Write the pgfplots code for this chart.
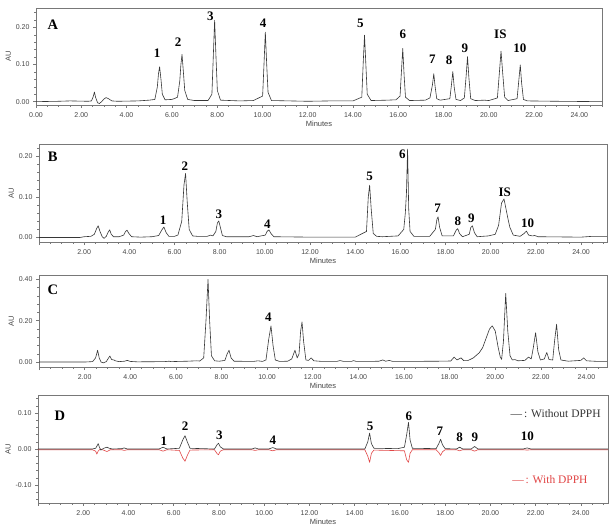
\documentclass[border=0pt]{standalone}
\usepackage{fontspec}
\setmainfont{Liberation Serif}
\setsansfont{Liberation Sans}
\usepackage{pgfplots}
\pgfplotsset{compat=1.18}

\definecolor{axisgray}{RGB}{120,120,120}
\definecolor{labgray}{RGB}{70,70,70}
\definecolor{trace}{RGB}{55,55,55}
\definecolor{tracered}{RGB}{225,70,70}

\tikzset{
  pk/.style={font=\bfseries\fontsize{13}{13}\selectfont, inner sep=0pt},
  panel/.style={font=\bfseries\fontsize{14.5}{14.5}\selectfont, inner sep=0pt},
}

\pgfplotsset{
  chrom/.style={
    scale only axis,
    clip=false,
    axis background/.style={fill=white},
    axis line style={draw=axisgray, line width=0.6pt},
    every tick/.style={draw=axisgray, line width=0.5pt},
    tick align=outside,
    xtick pos=bottom, ytick pos=left,
    major tick length=3pt, minor tick length=1.8pt,
    xtick={0,2,...,24},
    minor xtick={0,0.5,...,25},
    ticklabel style={font=\fontsize{7}{8}\selectfont\sffamily, text=labgray},
    xticklabel style={yshift=-1pt},
    /pgf/number format/assume math mode=true,
    xlabel={Minutes},
    ylabel={AU},
    label style={font=\fontsize{7.5}{8}\selectfont\sffamily, text=labgray},
    xlabel style={yshift=3pt},
    ylabel style={yshift=-2pt},
  },
  trc/.style={draw=trace, line width=0.6pt, line join=round, mark=none},
}

\begin{document}
\begin{tikzpicture}
\path[use as bounding box] (0,0) rectangle (614pt,-530pt);

% ---------------- A: standard mixture ----------------
\begin{axis}[chrom, at={(36pt,-8pt)}, anchor=north west,
  width=566pt, height=97pt,
  xmin=0, xmax=25, ymin=-0.009, ymax=0.252,
  xticklabels={0.00,2.00,4.00,6.00,8.00,10.00,12.00,14.00,16.00,18.00,20.00,22.00,24.00},
  ytick={0,0.1,0.2}, yticklabels={0.00,0.10,0.20},
  minor ytick={0,0.02,...,0.24}]
\addplot[trc] table {
x y
0 0.000
1.0 0.001
1.5 0.002
2.3 0.001
2.45 0.002
2.53 0.014
2.58 0.026
2.63 0.012
2.72 -0.003
2.80 -0.005
2.90 0.000
3.0 0.007
3.1 0.011
3.2 0.008
3.35 0.002
3.6 0.001
4.5 0.002
5.0 0.004
5.25 0.006
5.36 0.040
5.41 0.075
5.46 0.094
5.52 0.060
5.58 0.020
5.7 0.005
6.0 0.006
6.1 0.008
6.25 0.012
6.35 0.055
6.40 0.100
6.45 0.127
6.51 0.080
6.57 0.030
6.7 0.006
7.0 0.003
7.6 0.003
7.77 0.020
7.83 0.120
7.89 0.219
7.95 0.120
8.01 0.030
8.15 0.004
9.0 0.002
9.6 0.003
10.01 0.015
10.07 0.100
10.13 0.187
10.19 0.100
10.25 0.025
10.4 0.003
12.0 0.001
13.0 0.002
14.0 0.002
14.39 0.012
14.45 0.100
14.51 0.179
14.57 0.100
14.63 0.020
14.8 0.003
15.5 0.004
15.9 0.005
16.08 0.015
16.14 0.080
16.2 0.143
16.26 0.070
16.32 0.012
16.5 0.003
17.2 0.004
17.4 0.010
17.51 0.045
17.57 0.075
17.63 0.040
17.7 0.008
17.85 0.004
18.28 0.008
18.35 0.045
18.41 0.081
18.47 0.040
18.55 0.006
18.75 0.003
18.92 0.010
19.0 0.070
19.06 0.121
19.12 0.065
19.2 0.008
19.4 0.003
19.8 0.004
20.0 0.003
20.38 0.010
20.47 0.080
20.54 0.136
20.61 0.080
20.7 0.012
20.85 0.003
21.25 0.008
21.33 0.060
21.39 0.099
21.45 0.050
21.53 0.006
21.7 0.002
23.0 0.001
25.0 0.000
};
\node[panel] at (axis cs:0.74,0.206) {A};
\node[pk] at (axis cs:5.35,0.130) {1};
\node[pk] at (axis cs:6.28,0.161) {2};
\node[pk] at (axis cs:7.70,0.230) {3};
\node[pk] at (axis cs:10.03,0.212) {4};
\node[pk] at (axis cs:14.33,0.212) {5};
\node[pk] at (axis cs:16.20,0.182) {6};
\node[pk] at (axis cs:17.51,0.115) {7};
\node[pk] at (axis cs:18.25,0.112) {8};
\node[pk] at (axis cs:18.94,0.145) {9};
\node[pk] at (axis cs:20.51,0.181) {IS};
\node[pk] at (axis cs:21.37,0.145) {10};
\end{axis}

% ---------------- B: extract ----------------
\begin{axis}[chrom, at={(39pt,-144pt)}, anchor=north west,
  width=568pt, height=98pt,
  xmin=0, xmax=25.15, ymin=-0.011, ymax=0.2305,
  xticklabels={,2.00,4.00,6.00,8.00,10.00,12.00,14.00,16.00,18.00,20.00,22.00,24.00},
  ytick={0,0.1,0.2}, yticklabels={0.00,0.10,0.20},
  minor ytick={0,0.02,...,0.22}]
\addplot[trc] table {
x y
0 0.000
1.8 0.000
2.0 0.002
2.3 0.003
2.45 0.008
2.55 0.022
2.62 0.029
2.70 0.015
2.80 0.002
2.88 -0.002
2.98 0.003
3.05 0.012
3.13 0.019
3.2 0.008
3.3 0.002
3.55 0.002
3.75 0.006
3.83 0.015
3.9 0.018
3.98 0.010
4.1 0.002
4.5 0.001
5.0 0.002
5.3 0.005
5.43 0.018
5.53 0.026
5.63 0.012
5.75 0.003
6.0 0.003
6.15 0.006
6.32 0.040
6.42 0.130
6.49 0.158
6.56 0.090
6.65 0.020
6.8 0.004
7.0 0.003
7.45 0.003
7.6 0.006
7.7 0.004
7.83 0.015
7.9 0.036
7.96 0.041
8.03 0.025
8.12 0.005
8.3 0.002
9.3 0.002
9.5 0.005
9.65 0.002
10.02 0.006
10.1 0.015
10.18 0.019
10.27 0.010
10.4 0.002
12.0 0.001
14.0 0.001
14.5 0.015
14.58 0.100
14.64 0.129
14.71 0.070
14.8 0.010
14.95 0.003
15.2 0.002
15.9 0.004
16.15 0.020
16.22 0.060
16.27 0.110
16.32 0.218
16.37 0.070
16.43 0.015
16.6 0.003
17.3 0.003
17.55 0.020
17.62 0.045
17.67 0.051
17.74 0.025
17.85 0.004
18.35 0.004
18.47 0.018
18.54 0.022
18.62 0.010
18.75 0.002
19.05 0.008
19.12 0.025
19.19 0.029
19.28 0.012
19.4 0.002
19.9 0.004
20.2 0.008
20.35 0.030
20.48 0.085
20.59 0.095
20.68 0.070
20.77 0.045
20.85 0.025
21.0 0.006
21.3 0.003
21.48 0.010
21.58 0.016
21.68 0.006
21.85 0.004
21.95 0.005
22.1 0.002
24.0 0.001
24.5 0.003
25.15 0.003
};
\node[panel] at (axis cs:0.61,0.200) {B};
\node[pk] at (axis cs:5.50,0.043) {1};
\node[pk] at (axis cs:6.46,0.176) {2};
\node[pk] at (axis cs:7.96,0.058) {3};
\node[pk] at (axis cs:10.11,0.033) {4};
\node[pk] at (axis cs:14.64,0.150) {5};
\node[pk] at (axis cs:16.09,0.204) {6};
\node[pk] at (axis cs:17.65,0.073) {7};
\node[pk] at (axis cs:18.55,0.041) {8};
\node[pk] at (axis cs:19.14,0.047) {9};
\node[pk] at (axis cs:20.62,0.112) {IS};
\node[pk] at (axis cs:21.63,0.035) {10};
\end{axis}

% ---------------- C: extract after DPPH ----------------
\begin{axis}[chrom, at={(39pt,-275pt)}, anchor=north west,
  width=568pt, height=92pt,
  xmin=0, xmax=24.9, ymin=-0.024, ymax=0.421,
  xticklabels={,2.00,4.00,6.00,8.00,10.00,12.00,14.00,16.00,18.00,20.00,22.00,24.00},
  ytick={0,0.2,0.4}, yticklabels={0.00,0.20,0.40},
  minor ytick={0,0.04,...,0.41}]
\addplot[trc] table {
x y
0 0.000
2.0 0.000
2.35 0.002
2.48 0.020
2.57 0.057
2.64 0.020
2.72 0.000
2.82 -0.004
2.95 0.002
3.05 0.020
3.11 0.029
3.18 0.012
3.28 0.010
3.35 0.006
3.5 0.002
3.75 0.004
3.87 0.008
4.0 0.003
4.3 0.001
5.5 0.002
5.7 0.004
5.8 0.002
6.1 0.003
6.5 0.004
6.9 0.006
7.05 0.005
7.22 0.020
7.32 0.200
7.41 0.400
7.48 0.200
7.56 0.030
7.7 0.006
7.9 0.004
8.15 0.008
8.25 0.040
8.33 0.057
8.42 0.020
8.55 0.004
9.4 0.003
9.6 0.006
9.8 0.003
9.95 0.010
10.07 0.110
10.17 0.175
10.26 0.080
10.36 0.010
10.55 0.003
10.9 0.004
11.08 0.015
11.22 0.057
11.32 0.020
11.4 0.040
11.47 0.150
11.53 0.194
11.6 0.100
11.7 0.010
11.82 0.008
11.93 0.020
12.05 0.006
12.4 0.003
13.05 0.003
13.2 0.007
13.35 0.003
13.7 0.003
13.79 0.007
13.9 0.003
14.5 0.003
14.9 0.004
15.07 0.010
15.2 0.004
15.36 0.008
15.5 0.003
16.0 0.003
17.5 0.004
18.05 0.005
18.2 0.024
18.32 0.010
18.5 0.020
18.62 0.007
18.8 0.007
19.04 0.020
19.3 0.045
19.45 0.070
19.6 0.115
19.75 0.160
19.87 0.175
20.0 0.150
20.13 0.070
20.22 0.025
20.28 0.013
20.36 0.100
20.46 0.332
20.55 0.150
20.65 0.030
20.75 0.010
20.86 0.012
21.0 0.006
21.3 0.008
21.46 0.024
21.58 0.015
21.67 0.070
21.77 0.142
21.87 0.050
21.98 0.010
22.15 0.015
22.26 0.046
22.36 0.012
22.52 0.010
22.6 0.100
22.69 0.183
22.78 0.060
22.88 0.010
23.2 0.004
23.75 0.008
23.88 0.020
24.0 0.006
24.5 0.003
24.9 0.003
};
\node[panel] at (axis cs:0.61,0.348) {C};
\node[pk] at (axis cs:10.06,0.216) {4};
\end{axis}

% ---------------- D: without / with DPPH ----------------
\begin{axis}[chrom, at={(38pt,-395pt)}, anchor=north west,
  width=570pt, height=108pt,
  xmin=0, xmax=25.2, ymin=-0.15, ymax=0.15,
  xticklabels={,2.00,4.00,6.00,8.00,10.00,12.00,14.00,16.00,18.00,20.00,22.00,24.00},
  ytick={-0.1,0,0.1}, yticklabels={-0.10,0.00,0.10},
  minor ytick={-0.14,-0.12,...,0.15}]
% with DPPH
\addplot[draw=tracered, line width=0.6pt, line join=round, mark=none] table {
x y
0 -0.002
2.4 -0.002
2.55 -0.006
2.6 -0.014
2.66 -0.006
2.75 0.000
2.85 -0.002
3.05 -0.007
3.2 -0.002
3.7 -0.002
3.81 -0.004
3.95 -0.002
5.35 -0.002
5.53 -0.006
5.7 -0.002
6.25 -0.004
6.4 -0.025
6.5 -0.034
6.6 -0.018
6.72 -0.003
7.8 -0.002
7.92 -0.013
7.98 -0.016
8.06 -0.006
8.2 -0.002
9.45 -0.002
9.6 -0.004
9.75 -0.002
10.2 -0.002
10.38 -0.005
10.55 -0.002
14.45 -0.002
14.58 -0.020
14.66 -0.037
14.74 -0.012
14.85 -0.003
16.2 -0.005
16.3 -0.030
16.38 -0.037
16.45 -0.012
16.55 -0.002
17.6 -0.002
17.72 -0.010
17.8 -0.018
17.88 -0.008
18.0 -0.002
18.5 -0.002
18.64 -0.005
18.78 -0.002
19.15 -0.002
19.3 -0.006
19.45 -0.002
21.45 -0.002
21.62 -0.003
21.8 -0.002
25.2 -0.002
};
% without DPPH
\addplot[trc] table {
x y
0 0.000
2.4 0.000
2.55 0.002
2.62 0.010
2.66 0.015
2.72 0.004
2.78 -0.003
2.85 0.000
2.95 0.003
3.05 0.005
3.15 0.002
3.3 0.000
3.7 0.001
3.81 0.003
3.95 0.000
5.35 0.000
5.53 0.005
5.7 0.000
6.25 0.002
6.4 0.025
6.5 0.037
6.6 0.020
6.72 0.002
7.8 0.000
7.92 0.012
7.98 0.016
8.06 0.006
8.2 0.000
9.45 0.000
9.6 0.003
9.75 0.000
10.2 0.000
10.38 0.004
10.55 0.000
14.45 0.000
14.58 0.020
14.66 0.044
14.74 0.015
14.85 0.002
15.9 0.001
16.2 0.005
16.3 0.040
16.38 0.074
16.45 0.025
16.55 0.002
17.6 0.001
17.72 0.015
17.8 0.027
17.88 0.012
18.0 0.001
18.5 0.000
18.64 0.005
18.78 0.000
19.15 0.000
19.3 0.007
19.45 0.000
21.45 0.000
21.62 0.003
21.8 0.000
25.2 0.000
};
\node[panel] at (axis cs:0.97,0.091) {D};
\node[pk] at (axis cs:5.56,0.021) {1};
\node[pk] at (axis cs:6.50,0.064) {2};
\node[pk] at (axis cs:8.02,0.039) {3};
\node[pk] at (axis cs:10.38,0.025) {4};
\node[pk] at (axis cs:14.68,0.064) {5};
\node[pk] at (axis cs:16.40,0.092) {6};
\node[pk] at (axis cs:17.77,0.048) {7};
\node[pk] at (axis cs:18.64,0.032) {8};
\node[pk] at (axis cs:19.31,0.032) {9};
\node[pk] at (axis cs:21.64,0.036) {10};
\node[anchor=west, inner sep=0pt, font=\fontsize{11.5}{12}\selectfont, text=trace]
  at (axis cs:20.89,0.097) {\textemdash\,: Without DPPH};
\node[anchor=west, inner sep=0pt, font=\fontsize{11.5}{12}\selectfont, text=tracered]
  at (axis cs:20.96,-0.084) {\textemdash\,: With DPPH};
\end{axis}
\end{tikzpicture}
\end{document}
